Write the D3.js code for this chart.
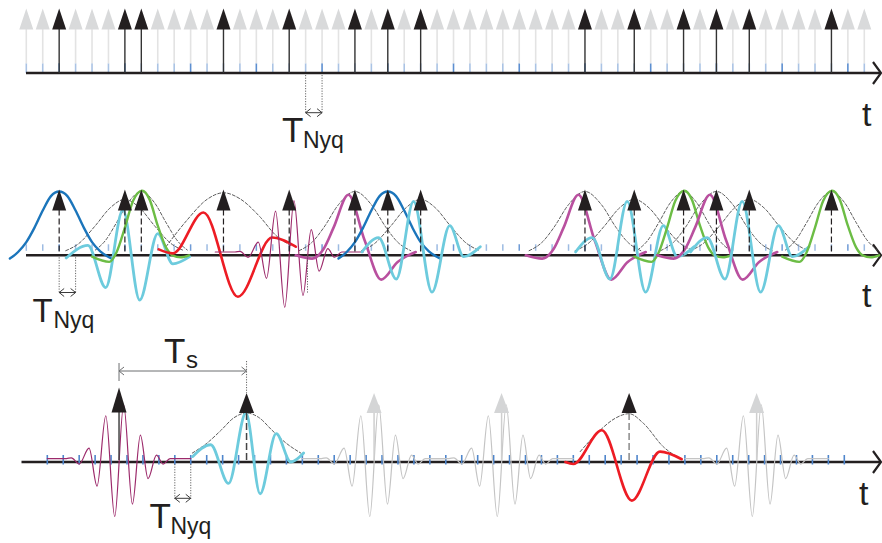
<!DOCTYPE html>
<html><head><meta charset="utf-8">
<script src="https://cdn.jsdelivr.net/npm/d3@7/dist/d3.min.js"></script>
<style>html,body{margin:0;padding:0;background:#fff;} svg{display:block;}</style>
</head><body><svg id="chart" width="882" height="543"></svg>
<script>
// ---------------- data ----------------
const slotsTop = 52;                       // Nyquist sample slots, panels 1 and 2
const blackSlots = [2,6,7,12,16,20,22,24,34,37,40,42,44,49];
const p2Types = ["blue","cyanB","green","red","thin","magenta","blue","cyan","magenta","cyan","green","magenta","cyan","green"];
const p2EnvTypes = ["cyan","cyanB","green","red","magenta"];
const slotsBottom = 51;                    // Nyquist sample slots, panel 3
const p3Slots = [4.5,12.5,20.5,28.5,36.5,44.5];
const p3Types = ["thin","cyan3","gray","gray","red3","gray"];
const p3Heights = [1.08,1,1,1,1,1];
const p3EnvTypes = ["cyan3","red3"];
const nyqP1 = [17,18], nyqP2 = [2,3], nyqP3 = [8,9];
const tsSlots = [4.5,12.5];
const labelT = "T", labelNyq = "Nyq", labelS = "s", labelTime = "t";

// wavelet shapes: [offset in slots, amplitude relative to arrow height]
const shapeBlue = [[-3,-0.05],[-2.5,0.05],[-2,0.2],[-1.5,0.42],[-1,0.68],[-0.5,0.9],[0,0.97],[0.5,0.9],[1,0.68],[1.5,0.42],[2,0.2],[2.5,0.06],[3.2,-0.05]];
const shapeGreen = [[-3,-0.02],[-1.95,-0.1],[-1.5,0.05],[-1,0.42],[-0.5,0.83],[0.05,0.98],[0.5,0.85],[1,0.45],[1.5,0.12],[1.9,0],[2.4,-0.03],[2.9,0]];
const shapeCyan = [[-3.57,0.05],[-2.56,0.27],[-1.48,-0.36],[-0.43,0.82],[0.69,-0.56],[1.77,0.45],[2.62,-0.02],[3.63,0.13]];
const shapeCyanB = [[-3.57,-0.04],[-2.25,0.15],[-1.17,-0.49],[-0.12,0.69],[0.9,-0.68],[2.0,0.33],[2.92,-0.13],[3.94,-0.02]];
const shapeRed = [[-3.94,0.09],[-3.09,0.03],[-1.22,0.65],[0.88,-0.63],[2.97,0.27],[4.4,0.13]];
const shapeMagenta = [[-3.6,0],[-2.6,-0.05],[-1.9,0.1],[-1.3,0.42],[-0.4,0.92],[0.6,0.22],[1.6,-0.37],[2.6,-0.1],[3.7,0.05]];
const shapeThin = [[-4.5,0.05],[-3.3,0.05],[-2.99,0.06],[-2.5,-0.03],[-1.88,0.2],[-1.38,-0.35],[-0.83,0.67],[-0.27,-0.79],[0.29,0.83],[0.84,-0.61],[1.34,0.39],[1.82,-0.24],[2.35,0.1],[2.76,-0.03],[3.2,0.05],[4.5,0.05]];
const shapeCyan3 = [[-3.37,0.08],[-2.25,0.25],[-1.13,-0.31],[-0.04,0.71],[0.85,-0.46],[1.86,0.41],[2.78,0.0],[3.58,0.13]];
const shapeRed3 = [[-4.0,0],[-3.5,-0.03],[-1.71,0.46],[0.17,-0.56],[1.94,0.15],[3.3,0.04]];

// dotted envelopes
const envGreen = [[-2.8,0.08],[-2.2,0.22],[-1.5,0.5],[-0.8,0.8],[0,0.97],[0.8,0.8],[1.5,0.5],[2.2,0.22],[2.8,0.08]];
const envCyan = [[-3.6,0.07],[-2.8,0.18],[-1.8,0.45],[-0.9,0.72],[0,0.85],[0.9,0.72],[1.8,0.45],[2.8,0.18],[3.6,0.07]];
const envMagenta = [[-3.4,0.07],[-2.6,0.2],[-1.9,0.42],[-1,0.77],[0,0.97],[1,0.77],[1.9,0.42],[2.6,0.2],[3.4,0.07]];
const envRed = [[-3.5,0.13],[-2.2,0.54],[-1,0.85],[0,0.95],[1,0.86],[2.2,0.59],[3.2,0.3],[4.1,0.15]];
const envCyan3 = [[-3.4,0.13],[-2.5,0.27],[-1.6,0.46],[-0.8,0.64],[0,0.71],[0.8,0.64],[1.6,0.46],[2.5,0.27],[3.4,0.13]];
const envRed3 = [[-3.07,0.15],[-1.82,0.46],[-0.9,0.63],[0,0.7],[0.9,0.56],[2.15,0.22],[3.2,0.05]];

// ---------------- styles ----------------
const shapes = {blue:shapeBlue, green:shapeGreen, cyan:shapeCyan, cyanB:shapeCyanB, red:shapeRed, magenta:shapeMagenta, thin:shapeThin, cyan3:shapeCyan3, red3:shapeRed3, gray:shapeThin};
const envs = {green:envGreen, cyan:envCyan, cyanB:envCyan, magenta:envMagenta, red:envRed, cyan3:envCyan3, red3:envRed3};
const style = {
  blue:{c:"#1b75bb",w:2.4}, green:{c:"#6cbd45",w:2.4}, cyan:{c:"#6dcbdd",w:2.8}, cyanB:{c:"#6dcbdd",w:2.8},
  red:{c:"#ed1c24",w:2.6}, magenta:{c:"#b9509f",w:2.6}, thin:{c:"#9c2a6b",w:1.2},
  cyan3:{c:"#6dcbdd",w:2.8}, red3:{c:"#ed1c24",w:2.6}, gray:{c:"#c4c4c4",w:1.2}
};
const INK = "#231f20";
const FONT = "'Liberation Sans', Arial, Helvetica, sans-serif";

const svg = d3.select("#chart");
const xTop = d3.scaleLinear().domain([0, slotsTop - 1]).range([26.3, 864.3]);
const xBot = d3.scaleLinear().domain([0, slotsBottom - 1]).range([47.3, 844.3]);
const y1 = d3.scaleLinear().domain([0,1]).range([73, 8.5]);
const y2 = d3.scaleLinear().domain([0,1]).range([255.3, 189.5]);
const y3 = d3.scaleLinear().domain([0,1]).range([462, 393]);

function axisLine(g, x0, y, x1) {
  g.append("line").attr("x1",x0).attr("x2",x1-1).attr("y1",y).attr("y2",y)
    .attr("stroke",INK).attr("stroke-width",2.6);
  g.append("path").attr("d",`M${x1-8},${y-11}L${x1},${y}L${x1-8},${y+11}`)
    .attr("fill","none").attr("stroke",INK).attr("stroke-width",2.2);
}
function head(g, x, yTop, fill, w=7, h=21) {
  g.append("path").attr("d",`M${x-w},${yTop+h}L${x},${yTop}L${x+w},${yTop+h}Z`).attr("fill",fill);
}
function curve(g, pts, center, xs, ys, st, dash) {
  const line = d3.line().x(d=>xs(center+d[0])).y(d=>ys(d[1])).curve(d3.curveMonotoneX);
  const p = g.append("path").attr("d",line(pts)).attr("fill","none")
    .attr("stroke",st.c).attr("stroke-width",st.w).attr("stroke-linejoin","round").attr("stroke-linecap","round");
  if (dash) p.attr("stroke-dasharray",dash);
  return p;
}
function dblArrow(g, xa, xb, y, col="#3a3a3a") {
  g.append("line").attr("x1",xa).attr("x2",xb).attr("y1",y).attr("y2",y).attr("stroke",col).attr("stroke-width",1);
  g.append("path").attr("d",`M${xa+5},${y-4}L${xa},${y}L${xa+5},${y+4}M${xb-5},${y-4}L${xb},${y}L${xb-5},${y+4}`)
    .attr("fill","none").attr("stroke",col).attr("stroke-width",1);
}
function vdots(g, x, ya, yb, col="#555") {
  g.append("line").attr("x1",x).attr("x2",x).attr("y1",ya).attr("y2",yb)
    .attr("stroke",col).attr("stroke-width",0.9).attr("stroke-dasharray","1.2,1.4");
}
function tNyq(g, x, y, size=35) {
  g.append("text").attr("x",x).attr("y",y).attr("font-family",FONT).attr("font-size",size).attr("fill",INK).text(labelT);
  g.append("text").attr("x",x+21).attr("y",y+6).attr("font-family",FONT).attr("font-size",23).attr("fill",INK).text(labelNyq);
}
function tLabel(g, x, y) {
  g.append("text").attr("x",x).attr("y",y).attr("font-family",FONT).attr("font-size",34).attr("fill",INK).text(labelTime);
}

// ---------------- panel 1 ----------------
const g1 = svg.append("g");
const slots = d3.range(slotsTop);
slots.forEach(i => {
  const isB = blackSlots.includes(i);
  g1.append("line").attr("x1",xTop(i)).attr("x2",xTop(i)).attr("y1",y1(0.15)).attr("y2",y1(0))
    .attr("stroke", i%4===2 ? "#5d8fd0" : "#aac3e4").attr("stroke-width",1.6);
  if (!isB) {
    g1.append("line").attr("x1",xTop(i)).attr("x2",xTop(i)).attr("y1",y1(1)+20).attr("y2",y1(0.15))
      .attr("stroke","#e3e3e3").attr("stroke-width",1.6);
    head(g1, xTop(i), y1(1), "#d9dadb");
  }
});
axisLine(g1, 26, y1(0), 881);
blackSlots.forEach(i => {
  g1.append("line").attr("x1",xTop(i)).attr("x2",xTop(i)).attr("y1",y1(1)+20).attr("y2",y1(0))
    .attr("stroke","#333").attr("stroke-width",1.4);
  head(g1, xTop(i), y1(1), INK);
});
nyqP1.forEach(i => vdots(g1, xTop(i), y1(0)+2, 113));
dblArrow(g1, xTop(nyqP1[0]), xTop(nyqP1[1]), 112.7);
tNyq(g1, 282, 141.7);
tLabel(g1, 862, 126);

// ---------------- panel 2 ----------------
const g2 = svg.append("g");
axisLine(g2, 26, y2(0), 881);
slots.forEach(i => {
  g2.append("line").attr("x1",xTop(i)).attr("x2",xTop(i)).attr("y1",y2(0)-11).attr("y2",y2(0)-4.5)
    .attr("stroke", i%4===2 ? "#6f9bd6" : "#9dbbe2").attr("stroke-width",1.5);
});
blackSlots.forEach((s,k) => {
  if (p2EnvTypes.includes(p2Types[k]))
    curve(g2, envs[p2Types[k]], s, xTop, y2, {c:"#4a4a4a",w:0.9}, "3,2");
});
blackSlots.forEach((s,k) => curve(g2, shapes[p2Types[k]], s, xTop, y2, style[p2Types[k]]));
blackSlots.forEach(s => {
  g2.append("line").attr("x1",xTop(s)).attr("x2",xTop(s)).attr("y1",y2(1)+20).attr("y2",y2(0))
    .attr("stroke",INK).attr("stroke-width",1.2).attr("stroke-dasharray","6,3");
  head(g2, xTop(s), y2(1), INK);
});
vdots(g2, 307.5, 255, 294);
nyqP2.forEach(i => vdots(g2, xTop(i), y2(0)+2, 293));
dblArrow(g2, xTop(nyqP2[0]), xTop(nyqP2[1]), 292.5);
tNyq(g2, 32.5, 321.7, 33);
tLabel(g2, 862, 306.5);

// ---------------- panel 3 ----------------
const g3 = svg.append("g");
axisLine(g3, 21.5, y3(0), 881);
d3.range(slotsBottom).forEach(i => {
  g3.append("line").attr("x1",xBot(i)).attr("x2",xBot(i)).attr("y1",y3(0)-7).attr("y2",y3(0)+2.5)
    .attr("stroke","#4f86cc").attr("stroke-width",1.6);
});
p3Slots.forEach((s,k) => {
  if (p3EnvTypes.includes(p3Types[k])) curve(g3, envs[p3Types[k]], s, xBot, y3, {c:"#4a4a4a",w:0.9}, "3,2");
});
p3Slots.forEach((s,k) => curve(g3, shapes[p3Types[k]], s, xBot, y3, style[p3Types[k]]));
p3Slots.forEach((s,k) => {
  const t = p3Types[k], top = y3(p3Heights[k]);
  const gray = t === "gray";
  const ln = g3.append("line").attr("x1",xBot(s)).attr("x2",xBot(s)).attr("y1",top+20).attr("y2",y3(0)-2)
    .attr("stroke", gray ? "#cfcfcf" : (t==="red3" ? "#8a8a8a" : "#444")).attr("stroke-width",1.5);
  if (t === "cyan3" || t === "red3") ln.attr("stroke-dasharray","7,3");
  head(g3, xBot(s), top, gray ? "#d4d5d6" : INK, 7.5, top===y3(1)?20:25);
});
// T_s marker
const xa = xBot(tsSlots[0]), xb = xBot(tsSlots[1]);
dblArrow(g3, xa, xb, 371, "#6d6e70");
g3.append("line").attr("x1",xa).attr("x2",xa).attr("y1",363).attr("y2",381).attr("stroke","#6d6e70").attr("stroke-width",1);
vdots(g3, xb, 361, 393);
g3.append("text").attr("x",164).attr("y",363.3).attr("font-family",FONT).attr("font-size",35).attr("fill",INK).text(labelT);
g3.append("text").attr("x",186).attr("y",367.5).attr("font-family",FONT).attr("font-size",24).attr("fill",INK).text(labelS);
nyqP3.forEach(i => vdots(g3, xBot(i), y3(0)+2, 499));
dblArrow(g3, xBot(nyqP3[0]), xBot(nyqP3[1]), 498.3);
tNyq(g3, 149.5, 528.3);
tLabel(g3, 859, 505);
</script></body></html>
